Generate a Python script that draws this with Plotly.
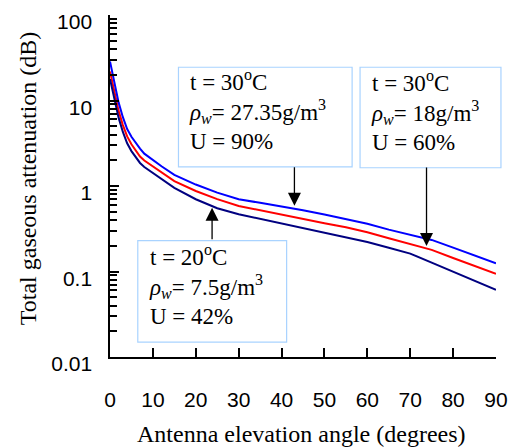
import math
import plotly.graph_objects as go

# ---- data ----
angles = [0, 1, 2, 3, 4, 5, 6, 7, 8, 10, 12, 15, 20, 25, 30, 35, 40, 45, 50, 55, 60, 65, 70, 75, 80, 85, 90]
att_u90 = [28.6, 15.7, 9.5, 6.38, 4.64, 3.76, 3.16, 2.73, 2.39, 2.01, 1.70, 1.35, 1.04, 0.837, 0.70, 0.636, 0.578,
           0.521, 0.464, 0.412, 0.361, 0.309, 0.27, 0.234, 0.19, 0.154, 0.125]
att_u60 = [21.9, 12.4, 7.57, 5.16, 3.80, 3.08, 2.59, 2.21, 1.99, 1.70, 1.44, 1.14, 0.875, 0.703, 0.585, 0.518, 0.459,
           0.409, 0.367, 0.329, 0.288, 0.245, 0.211, 0.179, 0.144, 0.117, 0.094]
att_u42 = [17.9, 10.3, 6.3, 4.29, 3.16, 2.56, 2.15, 1.86, 1.67, 1.42, 1.21, 0.95, 0.70, 0.55, 0.467, 0.412, 0.363,
           0.321, 0.285, 0.254, 0.221, 0.190, 0.162, 0.127, 0.0995, 0.078, 0.061]

x_ticks = [0, 10, 20, 30, 40, 50, 60, 70, 80, 90]
x_ticktext = ["0", "10", "20", "30", "40", "50", "60", "70", "80", "90"]
y_tickvals = [0.01, 0.1, 1, 10, 100]
y_ticktext = ["0.01", "0.1", "1", "10", "100"]

box_texts = [
    "t = 30<sup>o</sup>C<br><i>ρ</i><sub><i>w</i></sub>= 27.35g/m<sup>3</sup><br>U = 90%",
    "t = 30<sup>o</sup>C<br><i>ρ</i><sub><i>w</i></sub>= 18g/m<sup>3</sup><br>U = 60%",
    "t = 20<sup>o</sup>C<br><i>ρ</i><sub><i>w</i></sub>= 7.5g/m<sup>3</sup><br>U = 42%",
]
# arrow tips (angle, attenuation)
arrow_tips = [(43.0, 0.589), (73.8, 0.199), (23.8, 0.558)]

# ---- layout geometry (pixels) ----
W, H = 518, 448
L, R, T, B = 110, 499, 10, 357
pw, ph = R - L, B - T


def px(xp):
    return (xp - L) / pw


def py(yp):
    return (B - yp) / ph


fig = go.Figure()
fig.add_trace(go.Scatter(x=angles, y=att_u90, mode="lines", line=dict(color="#0000FF", width=2), showlegend=False,
                         xaxis="x2", yaxis="y"))
fig.add_trace(go.Scatter(x=angles, y=att_u60, mode="lines", line=dict(color="#FF0000", width=2), showlegend=False))
fig.add_trace(go.Scatter(x=angles, y=att_u42, mode="lines", line=dict(color="#000080", width=2), showlegend=False))

serif = "Liberation Serif, Times New Roman, serif"
sans = "Liberation Sans, Arial, sans-serif"

# boxes: (left, top, right, bottom) in pixels
boxes = [(179, 63, 354, 164), (362, 63, 504, 165), (138, 239, 288, 342)]
shapes = []
annotations = []
for (l, t, r, b), txt in zip(boxes, box_texts):
    shapes.append(dict(type="rect", xref="paper", yref="paper", x0=px(l), x1=px(r), y0=py(b), y1=py(t),
                       line=dict(color="#A9D3FF", width=1.2), fillcolor="white", layer="above"))
    annotations.append(dict(xref="paper", yref="paper", x=px(l + 9), y=py((t + b) / 2 - 7),
                            xanchor="left", yanchor="middle", align="left", showarrow=False,
                            text=txt, font=dict(family=serif, size=23, color="black")))

# arrows: tail offsets in pixels
tails = [(0, 164 - 204), (0, 165 - 245), (0, 239 - 206)]
for (ax_, ay_), (xa, ya) in zip(tails, arrow_tips):
    annotations.append(dict(x=xa, y=math.log10(ya), xref="x", yref="y", text="", showarrow=True,
                            ax=ax_, ay=ay_, arrowhead=2, arrowsize=2, arrowwidth=1.3, arrowcolor="black",
                            standoff=0, startstandoff=0))

annotations.append(dict(xref="paper", yref="paper", x=px(302.5), y=py(435), xanchor="center", yanchor="middle",
                        showarrow=False, text="Antenna elevation angle (degrees)",
                        font=dict(family=serif, size=24, color="black")))
annotations.append(dict(xref="paper", yref="paper", x=px(27), y=py(176), xanchor="center", yanchor="middle",
                        showarrow=False, text="Total gaseous attenuation (dB)", textangle=-90,
                        font=dict(family=serif, size=24, color="black")))

NB = "\u00a0"
fig.update_layout(
    width=W, height=H,
    margin=dict(l=L, r=W - R, t=T, b=H - B),
    paper_bgcolor="white", plot_bgcolor="white",
    shapes=shapes, annotations=annotations,
    showlegend=False,
    xaxis=dict(range=[0, 90], tickmode="array", tickvals=x_ticks, ticktext=x_ticktext, ticklabelstandoff=23,
               ticks="inside", ticklen=9, tickwidth=2, tickcolor="black",
               showline=True, linecolor="black", linewidth=2, showgrid=False, zeroline=False,
               tickfont=dict(family=sans, size=21, color="black")),
    # overlay axis that only draws the inside tick marks of the bottom axis
    xaxis2=dict(overlaying="x", anchor="y", side="bottom", range=[0, 90], tickmode="linear", tick0=0, dtick=90,
                ticks="inside", ticklen=9, tickwidth=2, tickcolor="black", showticklabels=False,
                minor=dict(ticks="inside", ticklen=9, tickwidth=2, tickcolor="black", tick0=0, dtick=10,
                           showgrid=False),
                showline=False, showgrid=False, zeroline=False),
    yaxis=dict(type="log", range=[-2, 2], tickmode="array", tickvals=y_tickvals,
               ticktext=[s + NB * 2 for s in y_ticktext], ticklabelshift=7,
               ticks="inside", ticklen=9, tickwidth=2, tickcolor="black",
               minor=dict(ticks="inside", ticklen=7, tickwidth=1.5, tickcolor="black", dtick="D1",
                          showgrid=False),
               showline=True, linecolor="black", linewidth=2, showgrid=False, zeroline=False,
               tickfont=dict(family=sans, size=21, color="black")),
)

fig.write_html("out.html", config={"displayModeBar": False},
               post_script="document.body.style.margin='0';document.body.style.padding='0';")
